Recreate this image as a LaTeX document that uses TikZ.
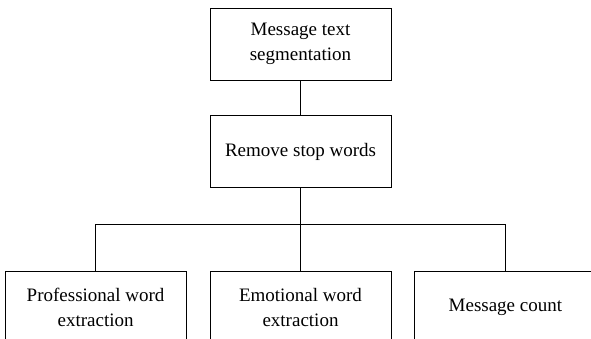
\documentclass[tikz,border=0pt]{standalone}
\usepackage{fontspec}
\setmainfont{Liberation Serif}
\usetikzlibrary{positioning}

\begin{document}
\begin{tikzpicture}[x=1pt, y=1pt, node distance=23pt, line width=0.9pt,
    box/.style={draw, rectangle, align=center, minimum width=181pt, minimum height=72pt, font=\fontsize{19}{25}\selectfont}]

    \clip (0,0) rectangle (591,-339);

    \node[box] (A) at (300.5,-44) {Message text\\segmentation};
    \node[box, below=35pt of A] (B) {Remove stop words};
    \node[box, below=83pt of B] (D) {Emotional word\\extraction};
    \node[box, left=of D] (C) {Professional word\\extraction};
    \node[box, right=of D] (E) {Message count};
    \coordinate[below=36pt of B] (J);

    \draw (A) -- (B);
    \draw (B) -- (D);
    \draw (C.north) |- (J) -| (E.north);

\end{tikzpicture}
\end{document}
